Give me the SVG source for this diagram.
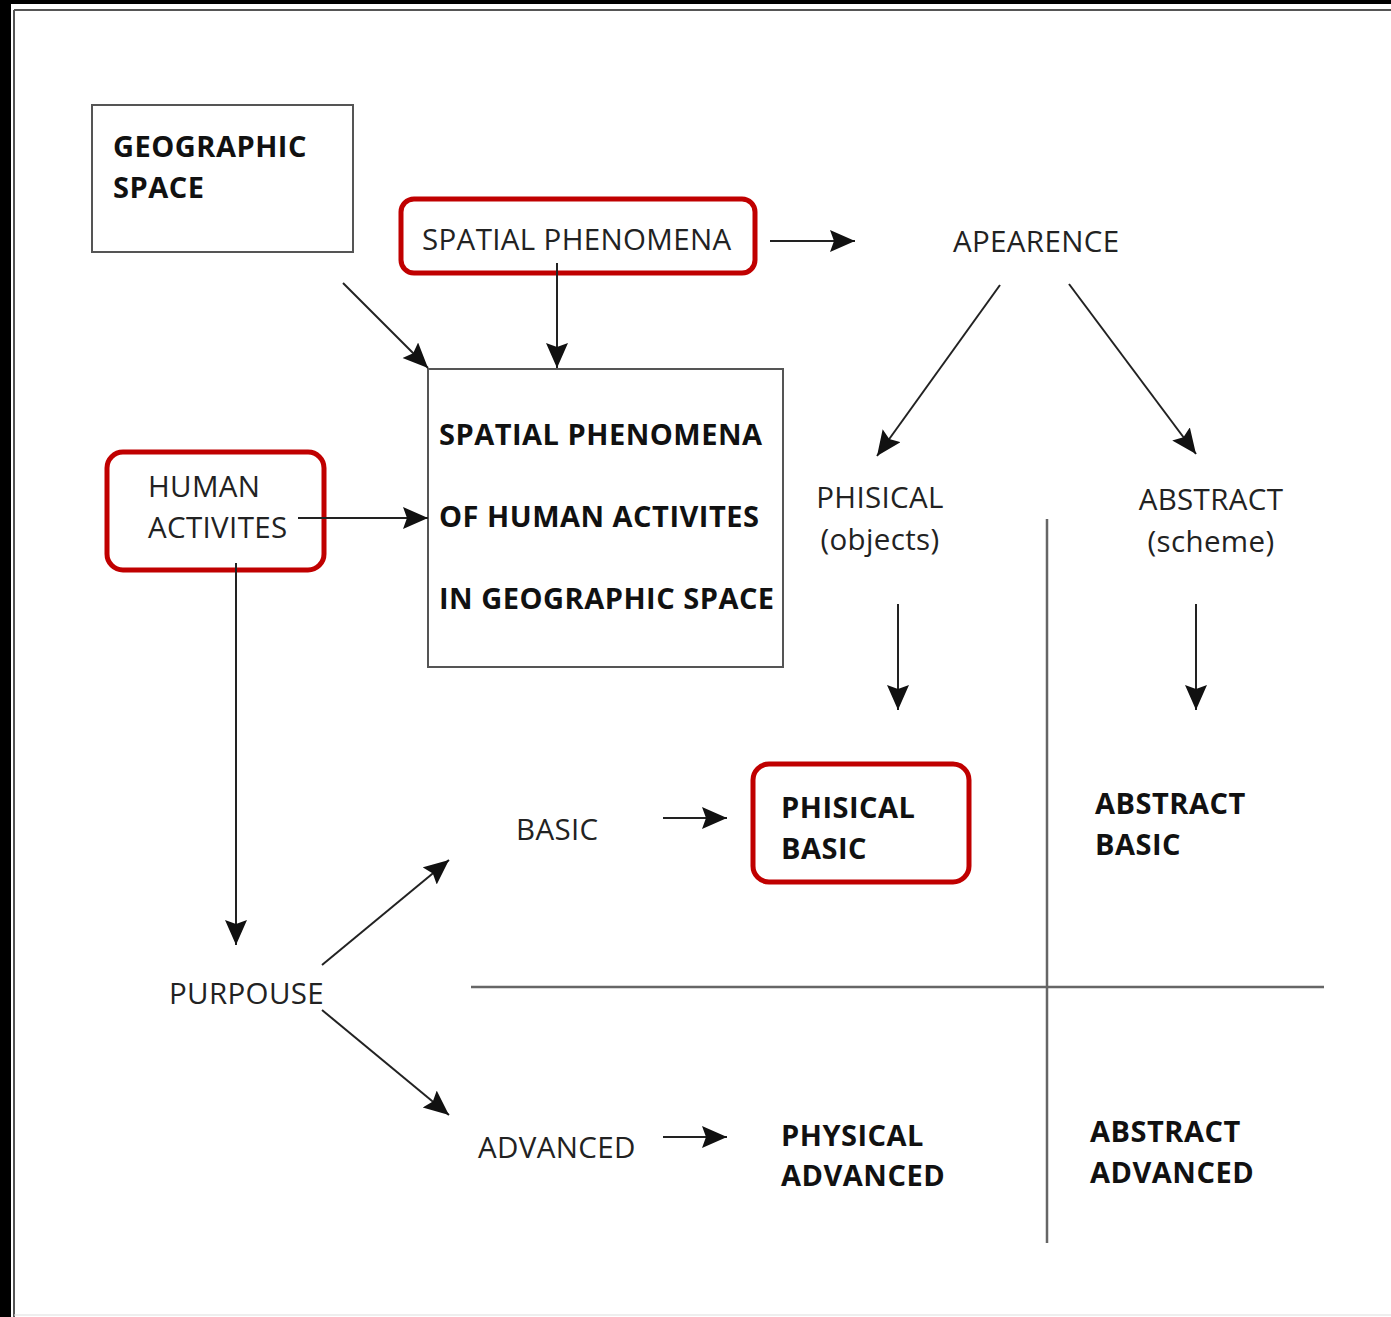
<svg xmlns="http://www.w3.org/2000/svg" width="1391" height="1317" viewBox="0 0 1391 1317">
  <style>
    .t { font-family: "Open Sans", "Noto Sans", "DejaVu Sans", sans-serif; font-size: 29.5px; fill: #222; letter-spacing: 0.35px; }
    .b { font-size: 29px; font-weight: bold; fill: #111; letter-spacing: 0.5px; }
    .box { fill: #fff; stroke: #555; stroke-width: 2; }
    .hl { fill: #fff; stroke: #c00000; stroke-width: 5; }
    .con { stroke: #222; stroke-width: 2; fill: none; marker-end: url(#ah); }
    .grid { stroke: #666; stroke-width: 2.5; fill: none; }
  </style>
  <defs>
    <marker id="ah" markerUnits="userSpaceOnUse" markerWidth="28" markerHeight="24" refX="25" refY="11" orient="auto">
      <path d="M0,0 L25,11 L0,22 L4,11 Z" fill="#111"/>
    </marker>
  </defs>

  <!-- page frame -->
  <rect x="0" y="0" width="1391" height="1317" fill="#fff"/>
  <rect x="0" y="0" width="11" height="1317" fill="#000"/>
  <rect x="0" y="0" width="1391" height="4" fill="#000"/>
  <line x1="14" y1="10" x2="14" y2="1317" stroke="#555" stroke-width="2"/>
  <line x1="14" y1="10" x2="1391" y2="10" stroke="#555" stroke-width="2"/>
  <line x1="14" y1="1315" x2="1391" y2="1315" stroke="#ddd" stroke-width="1"/>

  <!-- quadrant grid -->
  <g id="grid">
    <line class="grid" x1="1047" y1="519" x2="1047" y2="1243"/>
    <line class="grid" x1="471" y1="987" x2="1324" y2="987"/>
  </g>

  <g id="geographic-space">
    <rect class="box" x="92" y="105" width="261" height="147"/>
    <text class="t b" x="113" y="157">GEOGRAPHIC</text>
    <text class="t b" x="113" y="198">SPACE</text>
  </g>

  <g id="spatial-phenomena">
    <rect class="hl" x="401" y="199" width="354" height="74" rx="13"/>
    <text class="t" x="422" y="250">SPATIAL PHENOMENA</text>
  </g>

  <g id="apearence">
    <text class="t" x="953" y="252">APEARENCE</text>
  </g>

  <g id="central">
    <rect class="box" x="428" y="369" width="355" height="298"/>
    <text class="t b" x="439" y="445">SPATIAL PHENOMENA</text>
    <text class="t b" x="439" y="527">OF HUMAN ACTIVITES</text>
    <text class="t b" x="439" y="609">IN GEOGRAPHIC SPACE</text>
  </g>

  <g id="human-activites">
    <rect class="hl" x="107" y="452" width="217" height="118" rx="16"/>
    <text class="t" x="148" y="497">HUMAN</text>
    <text class="t" x="148" y="538" letter-spacing="1.5">ACTIVITES</text>
  </g>

  <g id="phisical">
    <text class="t" x="880" y="508" text-anchor="middle">PHISICAL</text>
    <text class="t" x="880" y="550" text-anchor="middle">(objects)</text>
  </g>

  <g id="abstract">
    <text class="t" x="1211" y="510" text-anchor="middle">ABSTRACT</text>
    <text class="t" x="1211" y="552" text-anchor="middle">(scheme)</text>
  </g>

  <g id="purpouse">
    <text class="t" x="169" y="1004">PURPOUSE</text>
  </g>

  <g id="basic">
    <text class="t" x="516" y="840">BASIC</text>
  </g>

  <g id="advanced">
    <text class="t" x="478" y="1158">ADVANCED</text>
  </g>

  <g id="phisical-basic">
    <rect class="hl" x="753" y="764" width="216" height="118" rx="16"/>
    <text class="t b" x="781" y="818">PHISICAL</text>
    <text class="t b" x="781" y="859">BASIC</text>
  </g>

  <g id="abstract-basic">
    <text class="t b" x="1095" y="814">ABSTRACT</text>
    <text class="t b" x="1095" y="855">BASIC</text>
  </g>

  <g id="physical-advanced">
    <text class="t b" x="781" y="1146">PHYSICAL</text>
    <text class="t b" x="781" y="1186">ADVANCED</text>
  </g>

  <g id="abstract-advanced">
    <text class="t b" x="1090" y="1142">ABSTRACT</text>
    <text class="t b" x="1090" y="1183">ADVANCED</text>
  </g>

  <!-- connectors drawn last so their tails show over the framed labels -->
  <g id="connectors">
    <line class="con" x1="343" y1="283" x2="428" y2="368"/>
    <line class="con" x1="557" y1="263" x2="557" y2="368"/>
    <line class="con" x1="770" y1="241" x2="855" y2="241"/>
    <line class="con" x1="298" y1="518" x2="428" y2="518"/>
    <line class="con" x1="236" y1="563" x2="236" y2="945"/>
    <line class="con" x1="1000" y1="285" x2="877" y2="456"/>
    <line class="con" x1="1069" y1="284" x2="1196" y2="454"/>
    <line class="con" x1="898" y1="604" x2="898" y2="710"/>
    <line class="con" x1="1196" y1="604" x2="1196" y2="710"/>
    <line class="con" x1="322" y1="965" x2="449" y2="860"/>
    <line class="con" x1="322" y1="1010" x2="449" y2="1115"/>
    <line class="con" x1="663" y1="818" x2="727" y2="818"/>
    <line class="con" x1="663" y1="1137" x2="727" y2="1137"/>
  </g>
</svg>
